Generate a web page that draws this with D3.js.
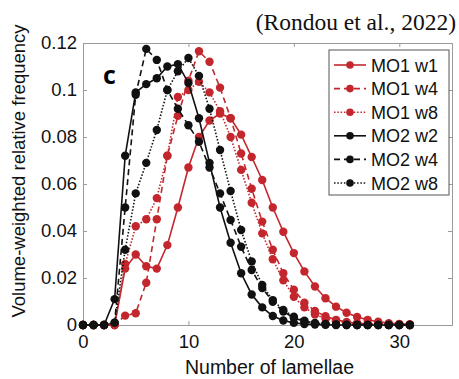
<!DOCTYPE html>
<html>
<head>
<meta charset="utf-8">
<script src="https://cdn.jsdelivr.net/npm/d3@7"></script>
<style>
  body { margin: 0; background: #fff; }
  text { font-family: "Liberation Sans", Arial, sans-serif; }
</style>
</head>
<body>
<div id="chart"></div>
<script>
const d = document;

/* Datos */
const lamellae = d3.range(0, 32);
const mo1w1 = [0, 0, 0, 0, 0.024, 0.030, 0.025, 0.024, 0.034, 0.050, 0.067, 0.080, 0.087, 0.090, 0.088, 0.081, 0.0715, 0.0617, 0.050, 0.0397, 0.0306, 0.0228, 0.0164, 0.0114, 0.0078, 0.0052, 0.0034, 0.0022, 0.0014, 0.0008, 0.0005, 0.0003];
const mo1w4 = [0, 0, 0, 0, 0.004, 0.005, 0.018, 0.045, 0.072, 0.089, 0.104, 0.1165, 0.112, 0.101, 0.088, 0.073, 0.058, 0.044, 0.032, 0.022, 0.015, 0.0095, 0.006, 0.0037, 0.0022, 0.0013, 0.0008, 0.0005, 0.0003, 0.0002, 0.0001, 0];
const mo1w8 = [0, 0, 0, 0, 0.026, 0.042, 0.045, 0.054, 0.072, 0.097, 0.100, 0.1035, 0.099, 0.091, 0.080, 0.066, 0.052, 0.039, 0.028, 0.019, 0.012, 0.0075, 0.0045, 0.0027, 0.0016, 0.0009, 0.0005, 0.0003, 0.0002, 0.0001, 0, 0];
const mo2w2 = [0, 0, 0, 0.011, 0.072, 0.099, 0.1025, 0.105, 0.110, 0.111, 0.103, 0.088, 0.069, 0.050, 0.035, 0.022, 0.013, 0.0075, 0.0038, 0.0019, 0.0009, 0.0004, 0.0002, 0.0001, 0, 0, 0, 0, 0, 0, 0, 0];
const mo2w4 = [0, 0, 0, 0.001, 0.050, 0.098, 0.1175, 0.1128, 0.100, 0.092, 0.085, 0.078, 0.067, 0.056, 0.0447, 0.0333, 0.0234, 0.0157, 0.0099, 0.0057, 0.003, 0.0015, 0.0007, 0.0003, 0.0001, 0, 0, 0, 0, 0, 0, 0];
const mo2w8 = [0, 0, 0, 0.001, 0.032, 0.056, 0.069, 0.083, 0.100, 0.108, 0.1136, 0.106, 0.092, 0.0745, 0.057, 0.0404, 0.027, 0.017, 0.0106, 0.0064, 0.0035, 0.0018, 0.0009, 0.0004, 0.0002, 0.0001, 0, 0, 0, 0, 0, 0];

const seriesNames = ["MO1 w1", "MO1 w4", "MO1 w8", "MO2 w2", "MO2 w4", "MO2 w8"];
const seriesValues = [mo1w1, mo1w4, mo1w8, mo2w2, mo2w4, mo2w8];
const xTicks = [0, 10, 20, 30];
const yTicks = [0, 0.02, 0.04, 0.06, 0.08, 0.1, 0.12];

/* Estilos por serie */
const rojo = "#c3272d", negro = "#111111";
const colores = [rojo, rojo, rojo, negro, negro, negro];
const guiones = [null, "6,4", "1.5,1.8", null, "6,4", "1.5,1.8"];

const width = 459, height = 379;
const margin = { top: 43, right: 7, bottom: 54, left: 83 };

const svg = d3.select("#chart").append("svg").attr("width", width).attr("height", height);

const x = d3.scaleLinear().domain([0, 35]).range([margin.left, width - margin.right]);
const y = d3.scaleLinear().domain([0, 0.12]).range([height - margin.bottom, margin.top]);

const gris = "#9a9a9a";

// Ejes (estilo MATLAB, ticks hacia dentro en los cuatro lados)
const fmt = (v) => (v === 0 ? "0" : d3.format("")(+v.toFixed(2)));
svg.append("g").attr("transform", `translate(0,${y(0)})`)
  .call(d3.axisBottom(x).tickValues(xTicks).tickSize(-4).tickPadding(10).tickFormat(d3.format("d")));
svg.append("g").attr("transform", `translate(${x(0)},0)`)
  .call(d3.axisLeft(y).tickValues(yTicks).tickSize(-4).tickPadding(6).tickFormat(fmt));
svg.append("g").attr("transform", `translate(0,${y(0.12)})`)
  .call(d3.axisTop(x).tickValues(xTicks).tickSize(-4).tickFormat(""));
svg.append("g").attr("transform", `translate(${x(35)},0)`)
  .call(d3.axisRight(y).tickValues(yTicks).tickSize(-4).tickFormat(""));

svg.selectAll(".domain").attr("stroke", gris);
svg.selectAll(".tick line").attr("stroke", gris);
svg.selectAll(".tick text").attr("fill", "#111").style("font-size", "18.5px");

// Titulos
svg.append("text").attr("x", (x(0) + x(35)) / 2 + 2).attr("y", 374).attr("text-anchor", "middle")
  .style("font-size", "19.5px").attr("fill", "#111").text("Number of lamellae");
svg.append("text").attr("transform", `translate(25,${(y(0) + y(0.12)) / 2 - 13}) rotate(-90)`)
  .attr("text-anchor", "middle").style("font-size", "18.5px").attr("fill", "#111")
  .text("Volume-weighted relative frequency");
svg.append("text").attr("x", 456).attr("y", 30).attr("text-anchor", "end")
  .style("font-family", "'Liberation Serif', 'Times New Roman', serif").style("font-size", "23.5px")
  .attr("fill", "#111").text("(Rondou et al., 2022)");
svg.append("text").attr("x", 103).attr("y", 84)
  .style("font-family", "'Open Sans', 'DejaVu Sans', sans-serif").style("font-weight", "bold")
  .style("font-size", "25px").attr("fill", "#000").text("c");

// Series
const line = d3.line().x((v, i) => x(lamellae[i])).y((v) => y(v));
const plot = svg.append("g");
seriesValues.forEach((vals, k) => {
  const g = plot.append("g");
  g.append("path").attr("d", line(vals)).attr("fill", "none")
    .attr("stroke", colores[k]).attr("stroke-width", 1.6)
    .attr("stroke-dasharray", guiones[k]);
  g.selectAll("circle").data(vals).enter().append("circle")
    .attr("cx", (v, i) => x(lamellae[i])).attr("cy", (v) => y(v))
    .attr("r", 4.2).attr("fill", colores[k]);
});

// Leyenda
const leg = svg.append("g").attr("transform", "translate(329,50)");
leg.append("rect").attr("width", 120).attr("height", 145).attr("fill", "#fff").attr("stroke", "#555").attr("stroke-width", 1);
seriesNames.forEach((nombre, k) => {
  const yy = 15 + k * 23.6;
  leg.append("line").attr("x1", 5).attr("x2", 37).attr("y1", yy).attr("y2", yy)
    .attr("stroke", colores[k]).attr("stroke-width", 1.6).attr("stroke-dasharray", guiones[k]);
  leg.append("circle").attr("cx", 21).attr("cy", yy).attr("r", 3.8).attr("fill", colores[k]);
  leg.append("text").attr("x", 42).attr("y", yy + 6.5).style("font-size", "18px").attr("fill", "#111").text(nombre);
});
</script>
</body>
</html>
